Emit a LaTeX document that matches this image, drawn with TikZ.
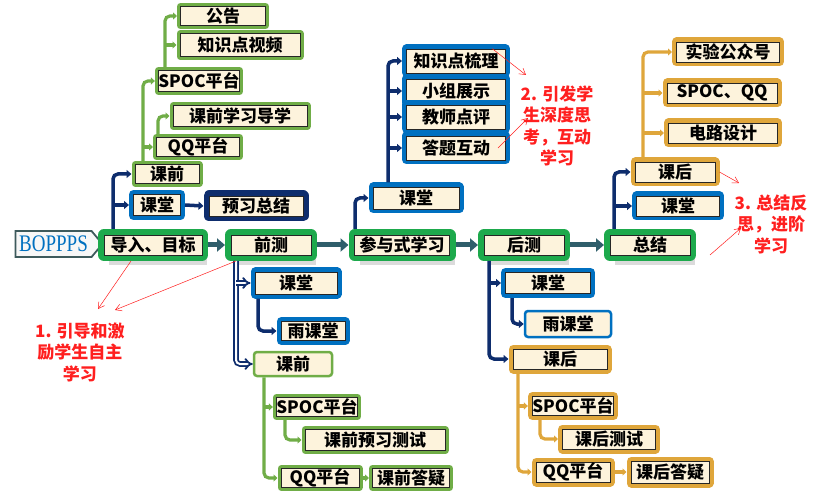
\documentclass[tikz,border=0pt]{standalone}
\usepackage{fontspec}
\newfontfamily\cjk{Noto Sans CJK SC}
\newfontfamily\serifB{Liberation Serif}
\usetikzlibrary{arrows.meta,shapes.symbols,shadows,calc}

\definecolor{cream}{HTML}{FDF3DC}
\definecolor{cmain}{HTML}{1DA94C}
\definecolor{cleaf}{HTML}{70AD47}
\definecolor{cblue}{HTML}{0070C0}
\definecolor{cnavy}{HTML}{0E2D6D}
\definecolor{cgold}{HTML}{DFA63B}
\definecolor{cflow}{HTML}{2F5E6B}
\definecolor{cred}{HTML}{FF1F1F}
\definecolor{csign}{HTML}{3E5A5C}

\tikzset{
  txt/.style={font=\cjk\bfseries\fontsize{17}{19}\selectfont},
  sz/.style 2 args={minimum width=#1pt, minimum height=#2pt},
  frame/.style 2 args={preaction={draw=#1, line width=#2, line join=round}},
  cell/.style={txt, inner sep=0pt, fill=cream, draw=black!85, line width=0.6pt},
  mbox/.style={cell, drop shadow={shadow xshift=5pt, shadow yshift=-10pt, fill=black!35, opacity=0.4}, frame={cmain}{12pt}, outer sep=6pt},
  gbox/.style={cell, frame={cleaf}{7pt}, outer sep=3.5pt},
  bbox/.style={cell, frame={cblue}{9pt}, outer sep=4.5pt},
  nbox/.style={cell, frame={cnavy}{11pt}, outer sep=5.5pt},
  obox/.style={cell, frame={cgold}{9pt}, outer sep=4.5pt},
  fbox/.style={txt, inner sep=0pt, fill=cream, draw=#1, line width=2.5pt, rounded corners=3pt, outer sep=1.25pt},
  flow/.style={cflow, line width=5pt, -{Triangle[length=8pt, width=13pt]}},
  nav/.style={cnavy, line width=3.5pt, rounded corners=5pt, -{Triangle[length=5pt, width=8pt]}},
  dbl/.style={cnavy, line width=1.8pt, double=white, double distance=2pt, rounded corners=4pt, -Implies},
  grn/.style={cleaf, line width=3.2pt, rounded corners=5pt, -{Triangle[length=4pt, width=7pt]}},
  gld/.style={cgold, line width=3.2pt, rounded corners=5pt, -{Triangle[length=4pt, width=7pt]}},
  hint/.style={cred, line width=0.5pt, -{Straight Barb[length=6pt, width=7pt]}},
  notetxt/.style={font=\cjk\bfseries\fontsize{17}{21.5}\selectfont, text=cred, align=center, inner sep=0pt}
}

\begin{document}
\begin{tikzpicture}[x=1pt, y=-1pt]
\fill[white] (0,0) rectangle (815,492);
\useasboundingbox (0,0) rectangle (815,492);

% main row
\node[signal, signal to=east, signal pointer angle=100, draw=csign, line width=1.8pt, fill=black!3,
      minimum width=87pt, minimum height=26pt, inner sep=0pt, text=cblue,
      font=\serifB\fontsize{19}{20}\selectfont] (bp) at (53.5,244) {\scalebox{1}[1.25]{BOPPPS}};
\node[mbox, sz={98}{20}] (dr) at (153,245) {导入、目标};
\node[mbox, sz={80}{20}] (qc) at (271,245) {前测};
\node[mbox, sz={95}{20}] (cy) at (402,245) {参与式学习};
\node[mbox, sz={80}{20}] (hc) at (524,245) {后测};
\node[mbox, sz={80}{20}] (zj) at (650,245) {总结};

\draw[flow] (dr) -- (qc);
\draw[flow] (qc) -- (cy);
\draw[flow] (cy) -- (hc);
\draw[flow] (hc) -- (zj);

% before class, upper left
\node[gbox, sz={64}{19}] (kq1) at (167,174) {课前};
\node[bbox, sz={47}{21}] (kt1) at (157,205) {课堂};
\node[nbox, sz={94}{20}] (yx) at (256,206) {预习总结};
\node[gbox, sz={83}{19}] (qq1) at (198,147) {QQ平台};
\node[gbox, sz={134}{21}] (dx) at (240,116) {课前学习导学};
\node[gbox, sz={80}{21}] (sp1) at (199,81) {SPOC平台};
\node[gbox, sz={120}{23}] (zs) at (240,45) {知识点视频};
\node[gbox, sz={85}{19}] (gg) at (223,16) {公告};

\coordinate (t1) at ($(dr.north)+(-40,0)$);
\draw[nav] (t1) |- (kq1.west);
\draw[nav] (t1 |- kt1.west) -- (kt1.west);
\draw[nav] (kt1.east) -- (yx.west);
\coordinate (t2) at ($(kq1.north)+(-24,0)$);
\draw[grn] (t2) |- (sp1.west);
\draw[grn] (t2 |- qq1.west) -- (qq1.west);
\coordinate (t3) at ($(qq1.north)+(-40,0)$);
\draw[grn] (t3) |- (dx.west);
\coordinate (t4) at ($(sp1.north)+(-34,0)$);
\draw[grn] (t4) |- (gg.west);
\draw[grn] (t4 |- zs.west) -- (zs.west);

% in class, upper middle
\node[bbox, sz={86}{22}] (kt2) at (416,198) {课堂};
\node[bbox, sz={99}{24}] (zd) at (456,61) {知识点梳理};
\node[bbox, sz={99}{24}] (xz) at (456,91) {小组展示};
\node[bbox, sz={99}{24}] (jp) at (456,117) {教师点评};
\node[bbox, sz={99}{24}] (dh) at (456,148) {答题互动};

\coordinate (t5) at ($(cy.north)+(-47,0)$);
\draw[nav] (t5) |- (kt2.west);
\coordinate (t6) at ($(kt2.north)+(-28,0)$);
\draw[nav] (t6) |- (zd.west);
\draw[nav] (t6 |- xz.west) -- (xz.west);
\draw[nav] (t6 |- jp.west) -- (jp.west);
\draw[nav] (t6 |- dh.west) -- (dh.west);

% after class, upper right
\node[obox, sz={80}{20}] (kh1) at (675,172) {课后};
\node[bbox, sz={83}{20}] (kt3) at (678,206) {课堂};
\node[obox, sz={103}{20}] (sy) at (728,52) {实验公众号};
\node[obox, sz={110}{20}] (sq) at (722,93) {SPOC、QQ};
\node[obox, sz={109}{20}] (dl) at (723,133) {电路设计};

\coordinate (t7) at ($(zj.north)+(-36,0)$);
\draw[nav] (t7) |- (kh1.west);
\draw[nav] (t7 |- kt3.west) -- (kt3.west);
\coordinate (t8) at ($(kh1.north)+(-32,0)$);
\draw[gld] (t8) |- (sy.west);
\draw[gld] (t8 |- sq.west) -- (sq.west);
\draw[gld] (t8 |- dl.west) -- (dl.west);

% pre-test, lower left
\node[bbox, sz={82}{22}] (kt4) at (296,283) {课堂};
\node[bbox, sz={64}{19}] (yk1) at (313,331) {雨课堂};
\node[fbox=cleaf, sz={78}{24}] (kq2) at (293,364) {课前};
\node[gbox, sz={80}{19}] (sp2) at (317,407) {SPOC平台};
\node[gbox, sz={140}{21}] (cs) at (375,440) {课前预习测试};
\node[gbox, sz={78}{19}] (qq2) at (320,478) {QQ平台};
\node[gbox, sz={77}{19}] (dy1) at (411,478) {课前答疑};

\coordinate (t9) at ($(qc.south)+(-35,0)$);
\draw[dbl] (t9) |- (kq2.west);
\draw[dbl] (t9 |- kt4.west) -- (kt4.west);
\coordinate (t10) at ($(kt4.south)+(-38,0)$);
\draw[nav] (t10) |- (yk1.west);
\coordinate (t11) at ($(kq2.south)+(-29,0)$);
\draw[grn] (t11) |- (qq2.west);
\draw[grn] (t11 |- sp2.west) -- (sp2.west);
\coordinate (t12) at ($(sp2.south)+(-32,0)$);
\draw[grn] (t12) |- (cs.west);
\draw[grn] (qq2.east) -- (dy1.west);

% post-test, lower right
\node[bbox, sz={85}{21}] (kt5) at (548,283) {课堂};
\node[fbox=cblue, sz={86}{26}] (yk2) at (568,324) {雨课堂};
\node[obox, sz={94}{20}] (kh2) at (560,359) {课后};
\node[obox, sz={76}{19}] (sp3) at (573,406) {SPOC平台};
\node[obox, sz={93}{20}] (ch) at (609,439) {课后测试};
\node[obox, sz={74}{20}] (qq3) at (573,472) {QQ平台};
\node[obox, sz={78}{22}] (dy2) at (670,472) {课后答疑};

\coordinate (t13) at ($(hc.south)+(-35,0)$);
\draw[nav] (t13) |- (kh2.west);
\draw[nav] (t13 |- kt5.west) -- (kt5.west);
\coordinate (t14) at ($(kt5.south)+(-36,0)$);
\draw[nav] (t14) |- (yk2.west);
\coordinate (t15) at ($(kh2.south)+(-42,0)$);
\draw[gld] (t15) |- (qq3.west);
\draw[gld] (t15 |- sp3.west) -- (sp3.west);
\coordinate (t16) at ($(sp3.south)+(-33,0)$);
\draw[gld] (t16) |- (ch.west);
\draw[gld] (qq3.east) -- (dy2.west);

% red notes
\node[notetxt] (n1) at (80,352) {1. 引导和激\\励学生自主\\学习};
\node[notetxt] (n2) at (557,126) {2. 引发学\\生深度思\\考，互动\\学习};
\node[notetxt] (n3) at (771,224) {3. 总结反\\思，进阶\\学习};

\coordinate (e1) at (98,309);
\coordinate (e2) at (115,310);
\coordinate (e3) at (526,75);
\coordinate (e4) at (528,118);
\coordinate (e5) at (739,183);
\coordinate (s6) at (710,255);
\coordinate (e6) at (741,228);
\draw[hint] ($(dr.south)+(-22,0)$) -- (e1);
\draw[hint] (t9) -- (e2);
\draw[hint] ($(zd.north east)+(-18,4)$) -- (e3);
\draw[hint] ($(dh.east)+(-12,0)$) -- (e4);
\draw[hint] (kh1.east) -- (e5);
\draw[hint] (s6) -- (e6);

\end{tikzpicture}
\end{document}
